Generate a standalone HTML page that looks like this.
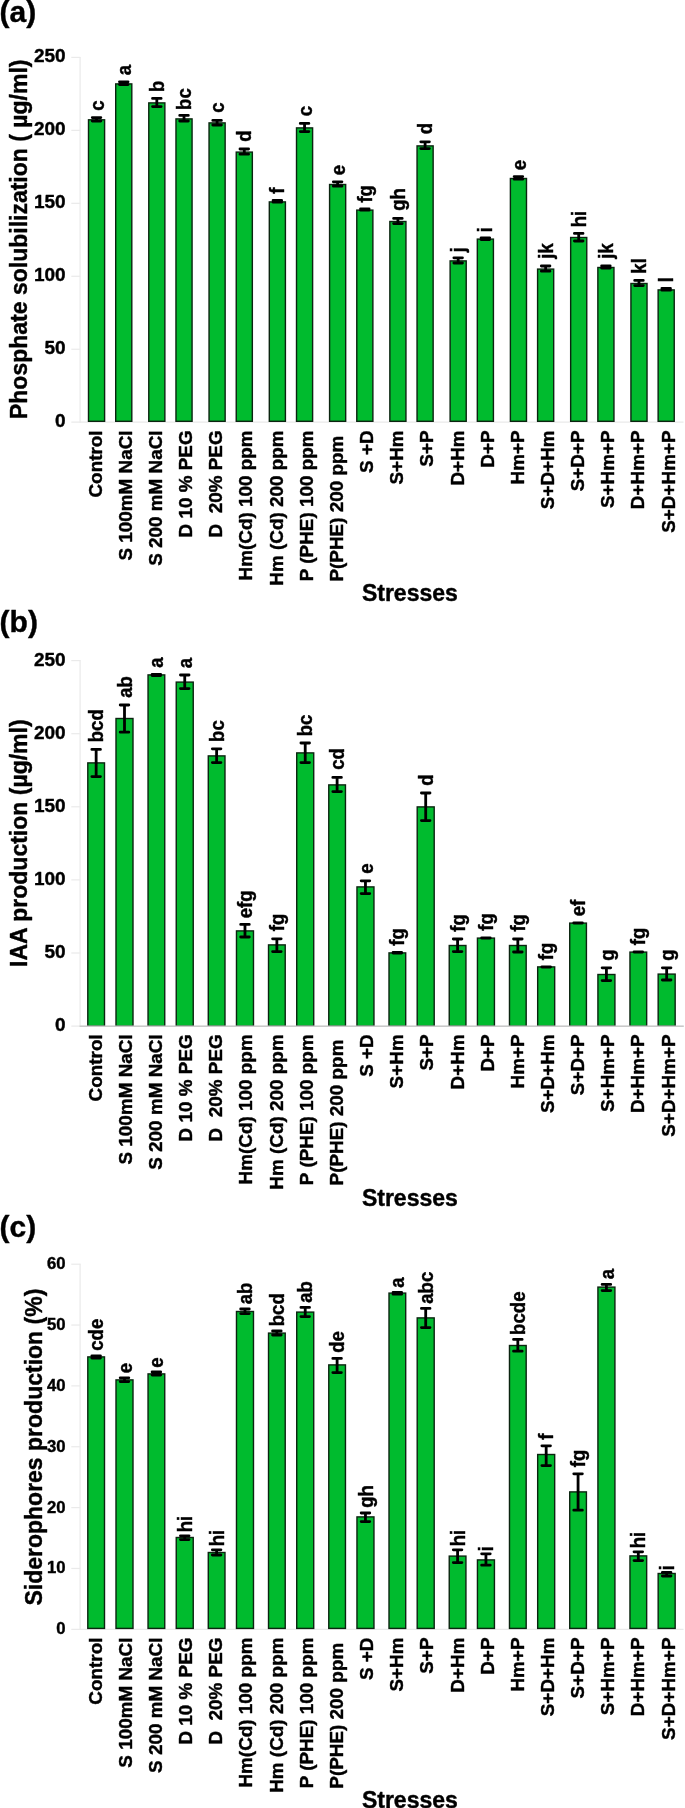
<!DOCTYPE html>
<html><head><meta charset="utf-8"><title>Figure</title>
<style>html,body{margin:0;padding:0;background:#fff}svg{display:block;will-change:transform}</style></head>
<body>
<svg width="685" height="1808" viewBox="0 0 685 1808" font-family='"Liberation Sans", sans-serif' font-weight="bold" fill="#000">
<style>text{stroke:#000;stroke-width:0.4px;stroke-linejoin:round}</style>
<rect width="685" height="1808" fill="#fff"/>
<g stroke="#eaeaea" stroke-width="1.2" fill="none">
<line x1="80.10" y1="56.90" x2="80.10" y2="422.70"/>
<line x1="71.30" y1="422.20" x2="683.50" y2="422.20"/>
<line x1="71.3" y1="349.24" x2="80.40" y2="349.24"/>
<line x1="71.3" y1="276.28" x2="80.40" y2="276.28"/>
<line x1="71.3" y1="203.32" x2="80.40" y2="203.32"/>
<line x1="71.3" y1="130.36" x2="80.40" y2="130.36"/>
<line x1="71.3" y1="57.40" x2="80.40" y2="57.40"/>
</g>
<g font-size="19" text-anchor="end">
<text x="65.6" y="427.20">0</text>
<text x="65.6" y="354.24">50</text>
<text x="65.6" y="281.28">100</text>
<text x="65.6" y="208.32">150</text>
<text x="65.6" y="135.36">200</text>
<text x="65.6" y="62.40">250</text>
</g>
<text font-size="23" text-anchor="end" transform="translate(27.30 59.50) rotate(-90)" x="0" y="0">Phosphate solubilization ( µg/ml)</text>
<text font-size="30" x="-0.4" y="21.50">(a)</text>
<g fill="#00bb2e" stroke="#0b2410" stroke-width="1.4">
<rect x="88.50" y="119.80" width="16.10" height="301.50"/>
<rect x="115.70" y="83.90" width="16.10" height="337.40"/>
<rect x="148.77" y="102.90" width="16.10" height="318.40"/>
<rect x="175.97" y="118.90" width="16.10" height="302.40"/>
<rect x="209.04" y="122.90" width="16.10" height="298.40"/>
<rect x="236.24" y="152.10" width="16.10" height="269.20"/>
<rect x="269.31" y="201.90" width="16.10" height="219.40"/>
<rect x="296.51" y="127.90" width="16.10" height="293.40"/>
<rect x="329.58" y="184.50" width="16.10" height="236.80"/>
<rect x="356.78" y="210.10" width="16.10" height="211.20"/>
<rect x="389.85" y="221.50" width="16.10" height="199.80"/>
<rect x="417.05" y="145.90" width="16.10" height="275.40"/>
<rect x="450.12" y="260.90" width="16.10" height="160.40"/>
<rect x="477.32" y="239.10" width="16.10" height="182.20"/>
<rect x="510.39" y="178.50" width="16.10" height="242.80"/>
<rect x="537.59" y="269.10" width="16.10" height="152.20"/>
<rect x="570.66" y="237.50" width="16.10" height="183.80"/>
<rect x="597.86" y="267.50" width="16.10" height="153.80"/>
<rect x="630.93" y="283.50" width="16.10" height="137.80"/>
<rect x="658.13" y="289.90" width="16.10" height="131.40"/>
</g>
<g stroke="#000" stroke-width="2.8" stroke-linecap="round" fill="none">
<path d="M92.25 117.60H100.85M92.25 121.10H100.85M96.55 117.60V121.10"/>
<path d="M119.45 81.80H128.05M119.45 84.60H128.05M123.75 81.80V84.60"/>
<path d="M152.52 98.40H161.12M152.52 106.60H161.12M156.82 98.40V106.60"/>
<path d="M179.72 115.40H188.32M179.72 121.00H188.32M184.02 115.40V121.00"/>
<path d="M212.79 120.40H221.39M212.79 125.00H221.39M217.09 120.40V125.00"/>
<path d="M239.99 149.00H248.59M239.99 154.20H248.59M244.29 149.00V154.20"/>
<path d="M273.06 200.40H281.66M273.06 202.20H281.66M277.36 200.40V202.20"/>
<path d="M300.26 123.40H308.86M300.26 131.60H308.86M304.56 123.40V131.60"/>
<path d="M333.33 181.80H341.93M333.33 186.20H341.93M337.63 181.80V186.20"/>
<path d="M360.53 209.00H369.13M360.53 210.20H369.13M364.83 209.00V210.20"/>
<path d="M393.60 218.40H402.20M393.60 223.60H402.20M397.90 218.40V223.60"/>
<path d="M420.80 141.80H429.40M420.80 148.60H429.40M425.10 141.80V148.60"/>
<path d="M453.87 257.80H462.47M453.87 263.00H462.47M458.17 257.80V263.00"/>
<path d="M481.07 237.80H489.67M481.07 239.60H489.67M485.37 237.80V239.60"/>
<path d="M514.14 176.60H522.74M514.14 179.20H522.74M518.44 176.60V179.20"/>
<path d="M541.34 266.00H549.94M541.34 271.20H549.94M545.64 266.00V271.20"/>
<path d="M574.41 233.40H583.01M574.41 241.00H583.01M578.71 233.40V241.00"/>
<path d="M601.61 266.00H610.21M601.61 268.00H610.21M605.91 266.00V268.00"/>
<path d="M634.68 280.40H643.28M634.68 285.60H643.28M638.98 280.40V285.60"/>
<path d="M661.88 288.40H670.48M661.88 290.20H670.48M666.18 288.40V290.20"/>
</g>
<g font-size="18.6">
<text transform="translate(103.65 110.74) rotate(-90) scale(1 1.05)">c</text>
<text transform="translate(130.85 75.14) rotate(-90) scale(1 1.05)">a</text>
<text transform="translate(163.92 91.90) rotate(-90) scale(1 1.05)">b</text>
<text transform="translate(191.12 109.90) rotate(-90) scale(1 1.05)">bc</text>
<text transform="translate(224.19 112.74) rotate(-90) scale(1 1.05)">c</text>
<text transform="translate(251.39 141.74) rotate(-90) scale(1 1.05)">d</text>
<text transform="translate(284.46 193.79) rotate(-90) scale(1 1.05)">f</text>
<text transform="translate(311.66 116.34) rotate(-90) scale(1 1.05)">c</text>
<text transform="translate(344.73 175.14) rotate(-90) scale(1 1.05)">e</text>
<text transform="translate(371.93 202.59) rotate(-90) scale(1 1.05)">fg</text>
<text transform="translate(405.00 210.74) rotate(-90) scale(1 1.05)">gh</text>
<text transform="translate(432.20 134.34) rotate(-90) scale(1 1.05)">d</text>
<text transform="translate(465.27 252.23) rotate(-90) scale(1 1.05)">j</text>
<text transform="translate(492.47 232.30) rotate(-90) scale(1 1.05)">i</text>
<text transform="translate(525.54 170.14) rotate(-90) scale(1 1.05)">e</text>
<text transform="translate(552.74 258.63) rotate(-90) scale(1 1.05)">jk</text>
<text transform="translate(585.81 227.30) rotate(-90) scale(1 1.05)">hi</text>
<text transform="translate(613.01 258.63) rotate(-90) scale(1 1.05)">jk</text>
<text transform="translate(646.08 273.70) rotate(-90) scale(1 1.05)">kl</text>
<text transform="translate(673.28 282.30) rotate(-90) scale(1 1.05)">l</text>
</g>
<g font-size="18.9" text-anchor="end">
<text transform="translate(101.68 430.40) rotate(-90)" xml:space="preserve">Control</text>
<text transform="translate(131.83 430.40) rotate(-90)" xml:space="preserve">S 100mM NaCl</text>
<text transform="translate(161.99 430.40) rotate(-90)" xml:space="preserve">S 200 mM NaCl</text>
<text transform="translate(192.14 430.40) rotate(-90)" xml:space="preserve">D 10 % PEG</text>
<text transform="translate(222.30 430.40) rotate(-90)" xml:space="preserve">D  20% PEG</text>
<text transform="translate(252.45 430.40) rotate(-90)" xml:space="preserve">Hm(Cd) 100 ppm</text>
<text transform="translate(282.61 430.40) rotate(-90)" xml:space="preserve">Hm (Cd) 200 ppm</text>
<text transform="translate(312.76 430.40) rotate(-90)" xml:space="preserve">P (PHE) 100 ppm</text>
<text transform="translate(342.92 430.40) rotate(-90)" xml:space="preserve">P(PHE) 200 ppm </text>
<text transform="translate(373.07 430.40) rotate(-90)" xml:space="preserve">S +D</text>
<text transform="translate(403.23 430.40) rotate(-90)" xml:space="preserve">S+Hm</text>
<text transform="translate(433.38 430.40) rotate(-90)" xml:space="preserve">S+P</text>
<text transform="translate(463.54 430.40) rotate(-90)" xml:space="preserve">D+Hm</text>
<text transform="translate(493.69 430.40) rotate(-90)" xml:space="preserve">D+P</text>
<text transform="translate(523.85 430.40) rotate(-90)" xml:space="preserve">Hm+P</text>
<text transform="translate(554.00 430.40) rotate(-90)" xml:space="preserve">S+D+Hm</text>
<text transform="translate(584.16 430.40) rotate(-90)" xml:space="preserve">S+D+P</text>
<text transform="translate(614.31 430.40) rotate(-90)" xml:space="preserve">S+Hm+P</text>
<text transform="translate(644.47 430.40) rotate(-90)" xml:space="preserve">D+Hm+P</text>
<text transform="translate(674.62 430.40) rotate(-90)" xml:space="preserve">S+D+Hm+P</text>
</g>
<text font-size="23" x="361.90" y="601.10">Stresses</text>
<g stroke="#eaeaea" stroke-width="1.2" fill="none">
<line x1="80.10" y1="660.10" x2="80.10" y2="1026.60"/>
<line x1="71.30" y1="1026.10" x2="683.50" y2="1026.10"/>
<line x1="71.3" y1="953.00" x2="80.40" y2="953.00"/>
<line x1="71.3" y1="879.90" x2="80.40" y2="879.90"/>
<line x1="71.3" y1="806.80" x2="80.40" y2="806.80"/>
<line x1="71.3" y1="733.70" x2="80.40" y2="733.70"/>
<line x1="71.3" y1="660.60" x2="80.40" y2="660.60"/>
</g>
<g font-size="19" text-anchor="end">
<text x="65.6" y="1031.10">0</text>
<text x="65.6" y="958.00">50</text>
<text x="65.6" y="884.90">100</text>
<text x="65.6" y="811.80">150</text>
<text x="65.6" y="738.70">200</text>
<text x="65.6" y="665.60">250</text>
</g>
<text font-size="23" text-anchor="end" transform="translate(27.30 719.40) rotate(-90)" x="0" y="0">IAA production (µg/ml)</text>
<text font-size="30" x="-0.4" y="631.60">(b)</text>
<g fill="#00bb2e" stroke="#0b2410" stroke-width="1.4">
<rect x="87.80" y="762.90" width="16.70" height="263.30"/>
<rect x="116.00" y="718.50" width="17.00" height="307.70"/>
<rect x="148.04" y="674.90" width="16.70" height="351.30"/>
<rect x="176.24" y="682.10" width="17.00" height="344.10"/>
<rect x="208.28" y="755.90" width="16.70" height="270.30"/>
<rect x="236.48" y="930.90" width="17.00" height="95.30"/>
<rect x="268.52" y="944.90" width="16.70" height="81.30"/>
<rect x="296.72" y="752.90" width="17.00" height="273.30"/>
<rect x="328.76" y="784.90" width="16.70" height="241.30"/>
<rect x="356.96" y="886.90" width="17.00" height="139.30"/>
<rect x="389.00" y="952.90" width="16.70" height="73.30"/>
<rect x="417.20" y="806.90" width="17.00" height="219.30"/>
<rect x="449.24" y="945.50" width="16.70" height="80.70"/>
<rect x="477.44" y="938.10" width="17.00" height="88.10"/>
<rect x="509.48" y="945.50" width="16.70" height="80.70"/>
<rect x="537.68" y="966.90" width="17.00" height="59.30"/>
<rect x="569.72" y="923.10" width="16.70" height="103.10"/>
<rect x="597.92" y="974.50" width="17.00" height="51.70"/>
<rect x="629.96" y="952.10" width="16.70" height="74.10"/>
<rect x="658.16" y="974.10" width="17.00" height="52.10"/>
</g>
<line x1="79.6" y1="1026.20" x2="683.8" y2="1026.20" stroke="#c9c9c9" stroke-width="1.6"/>
<g stroke="#000" stroke-width="2.8" stroke-linecap="round" fill="none">
<path d="M91.85 749.40H100.45M91.85 776.60H100.45M96.15 749.40V776.60"/>
<path d="M120.20 705.00H128.80M120.20 732.20H128.80M124.50 705.00V732.20"/>
<path d="M152.09 674.40H160.69M152.09 675.60H160.69M156.39 674.40V675.60"/>
<path d="M180.44 675.00H189.04M180.44 688.60H189.04M184.74 675.00V688.60"/>
<path d="M212.33 748.80H220.93M212.33 762.60H220.93M216.63 748.80V762.60"/>
<path d="M240.68 924.40H249.28M240.68 937.00H249.28M244.98 924.40V937.00"/>
<path d="M272.57 938.80H281.17M272.57 951.60H281.17M276.87 938.80V951.60"/>
<path d="M300.92 743.00H309.52M300.92 762.60H309.52M305.22 743.00V762.60"/>
<path d="M332.81 777.40H341.41M332.81 791.60H341.41M337.11 777.40V791.60"/>
<path d="M361.16 880.80H369.76M361.16 893.60H369.76M365.46 880.80V893.60"/>
<path d="M393.05 952.40H401.65M393.05 953.00H401.65M397.35 952.40V953.00"/>
<path d="M421.40 793.00H430.00M421.40 820.60H430.00M425.70 793.00V820.60"/>
<path d="M453.29 939.00H461.89M453.29 951.60H461.89M457.59 939.00V951.60"/>
<path d="M481.64 938.00H490.24M481.64 938.00H490.24M485.94 938.00V938.00"/>
<path d="M513.53 939.00H522.13M513.53 952.00H522.13M517.83 939.00V952.00"/>
<path d="M541.88 966.80H550.48M541.88 967.00H550.48M546.18 966.80V967.00"/>
<path d="M573.77 923.00H582.37M573.77 923.00H582.37M578.07 923.00V923.00"/>
<path d="M602.12 967.80H610.72M602.12 980.60H610.72M606.42 967.80V980.60"/>
<path d="M634.01 952.00H642.61M634.01 952.00H642.61M638.31 952.00V952.00"/>
<path d="M662.36 967.80H670.96M662.36 980.00H670.96M666.66 967.80V980.00"/>
</g>
<g font-size="18.6">
<text transform="translate(103.25 742.30) rotate(-90) scale(1 1.05)">bcd</text>
<text transform="translate(131.60 697.74) rotate(-90) scale(1 1.05)">ab</text>
<text transform="translate(163.49 667.74) rotate(-90) scale(1 1.05)">a</text>
<text transform="translate(191.84 668.14) rotate(-90) scale(1 1.05)">a</text>
<text transform="translate(223.73 741.90) rotate(-90) scale(1 1.05)">bc</text>
<text transform="translate(252.08 918.34) rotate(-90) scale(1 1.05)">efg</text>
<text transform="translate(283.97 931.19) rotate(-90) scale(1 1.05)">fg</text>
<text transform="translate(312.32 736.30) rotate(-90) scale(1 1.05)">bc</text>
<text transform="translate(344.21 769.74) rotate(-90) scale(1 1.05)">cd</text>
<text transform="translate(372.56 873.74) rotate(-90) scale(1 1.05)">e</text>
<text transform="translate(404.45 945.79) rotate(-90) scale(1 1.05)">fg</text>
<text transform="translate(432.80 785.74) rotate(-90) scale(1 1.05)">d</text>
<text transform="translate(464.69 931.79) rotate(-90) scale(1 1.05)">fg</text>
<text transform="translate(493.04 930.79) rotate(-90) scale(1 1.05)">fg</text>
<text transform="translate(524.93 931.59) rotate(-90) scale(1 1.05)">fg</text>
<text transform="translate(553.28 960.19) rotate(-90) scale(1 1.05)">fg</text>
<text transform="translate(585.17 916.34) rotate(-90) scale(1 1.05)">ef</text>
<text transform="translate(613.52 960.74) rotate(-90) scale(1 1.05)">g</text>
<text transform="translate(645.41 945.19) rotate(-90) scale(1 1.05)">fg</text>
<text transform="translate(673.76 960.74) rotate(-90) scale(1 1.05)">g</text>
</g>
<g font-size="18.9" text-anchor="end">
<text transform="translate(101.68 1034.30) rotate(-90)" xml:space="preserve">Control</text>
<text transform="translate(131.83 1034.30) rotate(-90)" xml:space="preserve">S 100mM NaCl</text>
<text transform="translate(161.99 1034.30) rotate(-90)" xml:space="preserve">S 200 mM NaCl</text>
<text transform="translate(192.14 1034.30) rotate(-90)" xml:space="preserve">D 10 % PEG</text>
<text transform="translate(222.30 1034.30) rotate(-90)" xml:space="preserve">D  20% PEG</text>
<text transform="translate(252.45 1034.30) rotate(-90)" xml:space="preserve">Hm(Cd) 100 ppm</text>
<text transform="translate(282.61 1034.30) rotate(-90)" xml:space="preserve">Hm (Cd) 200 ppm</text>
<text transform="translate(312.76 1034.30) rotate(-90)" xml:space="preserve">P (PHE) 100 ppm</text>
<text transform="translate(342.92 1034.30) rotate(-90)" xml:space="preserve">P(PHE) 200 ppm </text>
<text transform="translate(373.07 1034.30) rotate(-90)" xml:space="preserve">S +D</text>
<text transform="translate(403.23 1034.30) rotate(-90)" xml:space="preserve">S+Hm</text>
<text transform="translate(433.38 1034.30) rotate(-90)" xml:space="preserve">S+P</text>
<text transform="translate(463.54 1034.30) rotate(-90)" xml:space="preserve">D+Hm</text>
<text transform="translate(493.69 1034.30) rotate(-90)" xml:space="preserve">D+P</text>
<text transform="translate(523.85 1034.30) rotate(-90)" xml:space="preserve">Hm+P</text>
<text transform="translate(554.00 1034.30) rotate(-90)" xml:space="preserve">S+D+Hm</text>
<text transform="translate(584.16 1034.30) rotate(-90)" xml:space="preserve">S+D+P</text>
<text transform="translate(614.31 1034.30) rotate(-90)" xml:space="preserve">S+Hm+P</text>
<text transform="translate(644.47 1034.30) rotate(-90)" xml:space="preserve">D+Hm+P</text>
<text transform="translate(674.62 1034.30) rotate(-90)" xml:space="preserve">S+D+Hm+P</text>
</g>
<text font-size="23" x="361.90" y="1205.80">Stresses</text>
<g stroke="#eaeaea" stroke-width="1.2" fill="none">
<line x1="80.10" y1="1263.70" x2="80.10" y2="1629.80"/>
<line x1="71.30" y1="1629.30" x2="683.50" y2="1629.30"/>
<line x1="71.3" y1="1568.45" x2="80.40" y2="1568.45"/>
<line x1="71.3" y1="1507.60" x2="80.40" y2="1507.60"/>
<line x1="71.3" y1="1446.75" x2="80.40" y2="1446.75"/>
<line x1="71.3" y1="1385.90" x2="80.40" y2="1385.90"/>
<line x1="71.3" y1="1325.05" x2="80.40" y2="1325.05"/>
<line x1="71.3" y1="1264.20" x2="80.40" y2="1264.20"/>
</g>
<g font-size="16.7" text-anchor="end">
<text x="65.6" y="1634.20">0</text>
<text x="65.6" y="1573.35">10</text>
<text x="65.6" y="1512.50">20</text>
<text x="65.6" y="1451.65">30</text>
<text x="65.6" y="1390.80">40</text>
<text x="65.6" y="1329.95">50</text>
<text x="65.6" y="1269.10">60</text>
</g>
<text font-size="23" text-anchor="end" transform="translate(42.30 1288.70) rotate(-90)" x="0" y="0">Siderophores production (%)</text>
<text font-size="30" x="-0.4" y="1236.50">(c)</text>
<g fill="#00bb2e" stroke="#0b2410" stroke-width="1.4">
<rect x="87.80" y="1356.90" width="16.70" height="271.50"/>
<rect x="116.00" y="1379.90" width="17.00" height="248.50"/>
<rect x="148.04" y="1373.90" width="16.70" height="254.50"/>
<rect x="176.24" y="1537.50" width="17.00" height="90.90"/>
<rect x="208.28" y="1552.50" width="16.70" height="75.90"/>
<rect x="236.48" y="1311.50" width="17.00" height="316.90"/>
<rect x="268.52" y="1333.10" width="16.70" height="295.30"/>
<rect x="296.72" y="1312.10" width="17.00" height="316.30"/>
<rect x="328.76" y="1364.90" width="16.70" height="263.50"/>
<rect x="356.96" y="1516.90" width="17.00" height="111.50"/>
<rect x="389.00" y="1293.10" width="16.70" height="335.30"/>
<rect x="417.20" y="1317.90" width="17.00" height="310.50"/>
<rect x="449.24" y="1556.10" width="16.70" height="72.30"/>
<rect x="477.44" y="1559.90" width="17.00" height="68.50"/>
<rect x="509.48" y="1345.50" width="16.70" height="282.90"/>
<rect x="537.68" y="1454.50" width="17.00" height="173.90"/>
<rect x="569.72" y="1491.90" width="16.70" height="136.50"/>
<rect x="597.92" y="1287.10" width="17.00" height="341.30"/>
<rect x="629.96" y="1555.90" width="16.70" height="72.50"/>
<rect x="658.16" y="1573.50" width="17.00" height="54.90"/>
</g>
<g stroke="#000" stroke-width="2.8" stroke-linecap="round" fill="none">
<path d="M91.85 1355.80H100.45M91.85 1358.00H100.45M96.15 1355.80V1358.00"/>
<path d="M120.20 1377.80H128.80M120.20 1381.60H128.80M124.50 1377.80V1381.60"/>
<path d="M152.09 1372.00H160.69M152.09 1375.00H160.69M156.39 1372.00V1375.00"/>
<path d="M180.44 1535.80H189.04M180.44 1539.60H189.04M184.74 1535.80V1539.60"/>
<path d="M212.33 1549.80H220.93M212.33 1555.00H220.93M216.63 1549.80V1555.00"/>
<path d="M240.68 1309.00H249.28M240.68 1313.60H249.28M244.98 1309.00V1313.60"/>
<path d="M272.57 1331.00H281.17M272.57 1335.00H281.17M276.87 1331.00V1335.00"/>
<path d="M300.92 1307.40H309.52M300.92 1316.60H309.52M305.22 1307.40V1316.60"/>
<path d="M332.81 1358.40H341.41M332.81 1372.60H341.41M337.11 1358.40V1372.60"/>
<path d="M361.16 1513.00H369.76M361.16 1521.60H369.76M365.46 1513.00V1521.60"/>
<path d="M393.05 1292.40H401.65M393.05 1294.20H401.65M397.35 1292.40V1294.20"/>
<path d="M421.40 1308.40H430.00M421.40 1327.60H430.00M425.70 1308.40V1327.60"/>
<path d="M453.29 1549.80H461.89M453.29 1562.60H461.89M457.59 1549.80V1562.60"/>
<path d="M481.64 1553.80H490.24M481.64 1565.20H490.24M485.94 1553.80V1565.20"/>
<path d="M513.53 1339.40H522.13M513.53 1351.20H522.13M517.83 1339.40V1351.20"/>
<path d="M541.88 1445.80H550.48M541.88 1465.60H550.48M546.18 1445.80V1465.60"/>
<path d="M573.77 1473.80H582.37M573.77 1510.20H582.37M578.07 1473.80V1510.20"/>
<path d="M602.12 1284.40H610.72M602.12 1290.60H610.72M606.42 1284.40V1290.60"/>
<path d="M634.01 1551.80H642.61M634.01 1560.60H642.61M638.31 1551.80V1560.60"/>
<path d="M662.36 1572.40H670.96M662.36 1576.00H670.96M666.66 1572.40V1576.00"/>
</g>
<g font-size="18.6">
<text transform="translate(103.25 1350.74) rotate(-90) scale(1 1.05)">cde</text>
<text transform="translate(131.60 1373.34) rotate(-90) scale(1 1.05)">e</text>
<text transform="translate(163.49 1367.74) rotate(-90) scale(1 1.05)">e</text>
<text transform="translate(191.84 1532.30) rotate(-90) scale(1 1.05)">hi</text>
<text transform="translate(223.73 1546.30) rotate(-90) scale(1 1.05)">hi</text>
<text transform="translate(252.08 1304.34) rotate(-90) scale(1 1.05)">ab</text>
<text transform="translate(283.97 1326.30) rotate(-90) scale(1 1.05)">bcd</text>
<text transform="translate(312.32 1302.74) rotate(-90) scale(1 1.05)">ab</text>
<text transform="translate(344.21 1352.74) rotate(-90) scale(1 1.05)">de</text>
<text transform="translate(372.56 1507.74) rotate(-90) scale(1 1.05)">gh</text>
<text transform="translate(404.45 1287.74) rotate(-90) scale(1 1.05)">a</text>
<text transform="translate(432.80 1303.74) rotate(-90) scale(1 1.05)">abc</text>
<text transform="translate(464.69 1546.30) rotate(-90) scale(1 1.05)">hi</text>
<text transform="translate(493.04 1551.30) rotate(-90) scale(1 1.05)">i</text>
<text transform="translate(524.93 1334.90) rotate(-90) scale(1 1.05)">bcde</text>
<text transform="translate(553.28 1439.79) rotate(-90) scale(1 1.05)">f</text>
<text transform="translate(585.17 1467.19) rotate(-90) scale(1 1.05)">fg</text>
<text transform="translate(613.52 1279.34) rotate(-90) scale(1 1.05)">a</text>
<text transform="translate(645.41 1548.30) rotate(-90) scale(1 1.05)">hi</text>
<text transform="translate(673.76 1570.30) rotate(-90) scale(1 1.05)">i</text>
</g>
<g font-size="18.9" text-anchor="end">
<text transform="translate(101.68 1637.50) rotate(-90)" xml:space="preserve">Control</text>
<text transform="translate(131.83 1637.50) rotate(-90)" xml:space="preserve">S 100mM NaCl</text>
<text transform="translate(161.99 1637.50) rotate(-90)" xml:space="preserve">S 200 mM NaCl</text>
<text transform="translate(192.14 1637.50) rotate(-90)" xml:space="preserve">D 10 % PEG</text>
<text transform="translate(222.30 1637.50) rotate(-90)" xml:space="preserve">D  20% PEG</text>
<text transform="translate(252.45 1637.50) rotate(-90)" xml:space="preserve">Hm(Cd) 100 ppm</text>
<text transform="translate(282.61 1637.50) rotate(-90)" xml:space="preserve">Hm (Cd) 200 ppm</text>
<text transform="translate(312.76 1637.50) rotate(-90)" xml:space="preserve">P (PHE) 100 ppm</text>
<text transform="translate(342.92 1637.50) rotate(-90)" xml:space="preserve">P(PHE) 200 ppm </text>
<text transform="translate(373.07 1637.50) rotate(-90)" xml:space="preserve">S +D</text>
<text transform="translate(403.23 1637.50) rotate(-90)" xml:space="preserve">S+Hm</text>
<text transform="translate(433.38 1637.50) rotate(-90)" xml:space="preserve">S+P</text>
<text transform="translate(463.54 1637.50) rotate(-90)" xml:space="preserve">D+Hm</text>
<text transform="translate(493.69 1637.50) rotate(-90)" xml:space="preserve">D+P</text>
<text transform="translate(523.85 1637.50) rotate(-90)" xml:space="preserve">Hm+P</text>
<text transform="translate(554.00 1637.50) rotate(-90)" xml:space="preserve">S+D+Hm</text>
<text transform="translate(584.16 1637.50) rotate(-90)" xml:space="preserve">S+D+P</text>
<text transform="translate(614.31 1637.50) rotate(-90)" xml:space="preserve">S+Hm+P</text>
<text transform="translate(644.47 1637.50) rotate(-90)" xml:space="preserve">D+Hm+P</text>
<text transform="translate(674.62 1637.50) rotate(-90)" xml:space="preserve">S+D+Hm+P</text>
</g>
<text font-size="23" x="361.90" y="1807.50">Stresses</text>
</svg>
</body></html>
